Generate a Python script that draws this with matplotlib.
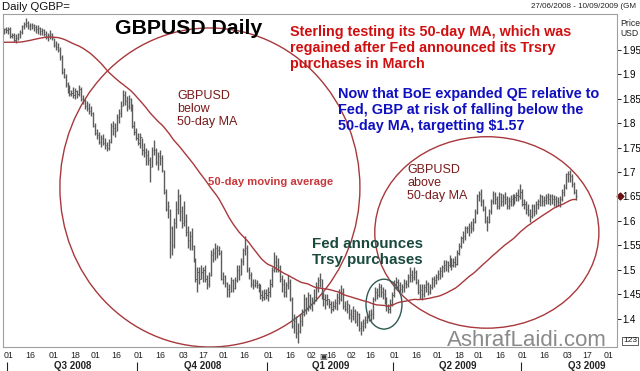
import numpy as np
import pandas as pd
import matplotlib
matplotlib.use("Agg")
import matplotlib.pyplot as plt
from matplotlib.patches import Ellipse
from matplotlib.ticker import FuncFormatter

plt.rcParams['font.family'] = ['Liberation Sans', 'DejaVu Sans']

# ---------------- data ----------------
start_date = '2008-06-27'
end_date = '2009-09-10'

# 49 closes before the first bar (feed the 50-day moving average)
pre_close = [1.99, 1.99, 1.98, 1.98, 1.97, 1.97, 1.98, 1.97, 1.98, 1.97,
             1.96, 1.96, 1.97, 1.95, 1.95, 1.95, 1.96, 1.95, 1.94, 1.95,
             1.95, 1.97, 1.97, 1.98, 1.97, 1.97, 1.97, 1.98, 1.96, 1.96,
             1.96, 1.97, 1.95, 1.96, 1.96, 1.95, 1.95, 1.95, 1.96, 1.96,
             1.97, 1.97, 1.97, 1.97, 1.98, 1.97, 1.96, 1.96, 1.97]

high = [
    1.995,
    # Jul 2008
    1.997, 1.997, 1.996, 1.985, 1.984, 1.982, 1.985, 1.990, 2.002, 2.008, 2.016, 2.010,
    2.005, 2.006, 2.004, 2.002, 2.000, 1.997, 1.995, 1.992, 1.988, 1.985, 1.990,
    # Aug 2008
    1.985, 1.975, 1.968, 1.965, 1.955, 1.940, 1.912, 1.900, 1.885, 1.878, 1.868,
    1.875, 1.872, 1.868, 1.878, 1.875, 1.858, 1.850, 1.845, 1.842, 1.835,
    # Sep 2008
    1.822, 1.800, 1.788, 1.782, 1.775, 1.778, 1.770, 1.762, 1.768, 1.800, 1.805,
    1.800, 1.818, 1.830, 1.845, 1.867, 1.866, 1.855, 1.858, 1.852, 1.840, 1.805,
    # Oct 2008
    1.790, 1.780, 1.780, 1.770, 1.760, 1.750, 1.745, 1.730, 1.752, 1.765, 1.750, 1.740,
    1.745, 1.735, 1.705, 1.665, 1.640, 1.625, 1.590, 1.605, 1.640, 1.666, 1.655,
    # Nov 2008
    1.630, 1.640, 1.615, 1.590, 1.580, 1.585, 1.550, 1.525, 1.505, 1.505,
    1.510, 1.505, 1.510, 1.490, 1.495, 1.540, 1.545, 1.555, 1.550, 1.548,
    # Dec 2008
    1.540, 1.495, 1.490, 1.475, 1.470, 1.485, 1.480, 1.485, 1.510, 1.510, 1.525, 1.545,
    1.570, 1.550, 1.505, 1.495, 1.480, 1.480, 1.478, 1.472, 1.470, 1.458, 1.460,
    # Jan 2009
    1.460, 1.465, 1.480, 1.505, 1.536, 1.530, 1.525, 1.510, 1.490, 1.480, 1.475,
    1.490, 1.480, 1.445, 1.410, 1.405, 1.390, 1.410, 1.420, 1.450, 1.445, 1.455,
    # Feb 2009
    1.450, 1.445, 1.460, 1.475, 1.485, 1.493, 1.482, 1.455, 1.450, 1.450,
    1.440, 1.435, 1.435, 1.440, 1.452, 1.460, 1.468, 1.462, 1.435, 1.438,
    # Mar 2009
    1.430, 1.420, 1.425, 1.420, 1.415, 1.412, 1.395, 1.400, 1.405, 1.412, 1.418,
    1.420, 1.445, 1.465, 1.462, 1.473, 1.470, 1.465, 1.460, 1.445, 1.430, 1.440,
    # Apr 2009
    1.455, 1.478, 1.485, 1.480, 1.475, 1.470, 1.480, 1.478, 1.492, 1.505, 1.500,
    1.505, 1.500, 1.480, 1.470, 1.470, 1.470, 1.478, 1.475, 1.470, 1.485, 1.488,
    # May 2009
    1.492, 1.500, 1.505, 1.510, 1.520, 1.520, 1.518, 1.530, 1.525, 1.525, 1.528,
    1.540, 1.555, 1.570, 1.580, 1.590, 1.590, 1.595, 1.600, 1.605, 1.625,
    # Jun 2009
    1.655, 1.662, 1.666, 1.645, 1.630, 1.610, 1.625, 1.645, 1.662, 1.660, 1.650,
    1.660, 1.658, 1.655, 1.660, 1.650, 1.648, 1.652, 1.655, 1.655, 1.660, 1.665,
    # Jul 2009
    1.676, 1.665, 1.645, 1.640, 1.635, 1.625, 1.635, 1.635, 1.640, 1.645, 1.655, 1.652,
    1.650, 1.655, 1.658, 1.655, 1.656, 1.652, 1.650, 1.648, 1.650, 1.665, 1.675,
    # Aug 2009
    1.698, 1.703, 1.704, 1.695, 1.680, 1.665,
]

low = [
    1.983,
    # Jul 2008
    1.985, 1.983, 1.975, 1.975, 1.966, 1.965, 1.970, 1.975, 1.983, 1.992, 1.996, 1.993,
    1.990, 1.992, 1.988, 1.985, 1.982, 1.980, 1.980, 1.978, 1.972, 1.968, 1.973,
    # Aug 2008
    1.970, 1.955, 1.950, 1.945, 1.930, 1.900, 1.892, 1.875, 1.862, 1.855, 1.855,
    1.852, 1.850, 1.852, 1.856, 1.845, 1.840, 1.830, 1.825, 1.818, 1.815,
    # Sep 2008
    1.792, 1.775, 1.768, 1.758, 1.752, 1.755, 1.748, 1.744, 1.745, 1.760, 1.775,
    1.772, 1.785, 1.800, 1.812, 1.835, 1.838, 1.825, 1.828, 1.825, 1.790, 1.775,
    # Oct 2008
    1.765, 1.755, 1.750, 1.735, 1.730, 1.715, 1.715, 1.680, 1.710, 1.735, 1.715, 1.705,
    1.715, 1.700, 1.655, 1.620, 1.605, 1.525, 1.530, 1.545, 1.585, 1.615, 1.600,
    # Nov 2008
    1.585, 1.590, 1.570, 1.545, 1.540, 1.540, 1.515, 1.475, 1.455, 1.470,
    1.480, 1.475, 1.475, 1.460, 1.465, 1.488, 1.515, 1.520, 1.525, 1.530,
    # Dec 2008
    1.478, 1.470, 1.465, 1.445, 1.445, 1.455, 1.455, 1.460, 1.475, 1.478, 1.490, 1.510,
    1.530, 1.495, 1.480, 1.465, 1.460, 1.465, 1.462, 1.455, 1.440, 1.435, 1.438,
    # Jan 2009
    1.440, 1.435, 1.445, 1.465, 1.495, 1.495, 1.495, 1.475, 1.455, 1.445, 1.444,
    1.460, 1.435, 1.380, 1.370, 1.360, 1.350, 1.370, 1.385, 1.405, 1.410, 1.415,
    # Feb 2009
    1.420, 1.415, 1.430, 1.435, 1.455, 1.465, 1.440, 1.425, 1.420, 1.428,
    1.422, 1.412, 1.415, 1.420, 1.418, 1.430, 1.435, 1.420, 1.415, 1.412,
    # Mar 2009
    1.400, 1.392, 1.398, 1.390, 1.385, 1.375, 1.366, 1.375, 1.380, 1.390, 1.395,
    1.395, 1.400, 1.435, 1.440, 1.445, 1.445, 1.440, 1.430, 1.415, 1.411, 1.412,
    # Apr 2009
    1.425, 1.445, 1.460, 1.460, 1.450, 1.452, 1.455, 1.462, 1.465, 1.475, 1.475,
    1.478, 1.470, 1.450, 1.440, 1.438, 1.445, 1.455, 1.448, 1.450, 1.460, 1.465,
    # May 2009
    1.470, 1.478, 1.480, 1.485, 1.495, 1.498, 1.495, 1.505, 1.500, 1.505, 1.505,
    1.510, 1.530, 1.545, 1.555, 1.560, 1.575, 1.570, 1.575, 1.580, 1.595,
    # Jun 2009
    1.615, 1.640, 1.630, 1.620, 1.595, 1.580, 1.595, 1.615, 1.635, 1.635, 1.625,
    1.625, 1.630, 1.630, 1.635, 1.625, 1.625, 1.630, 1.630, 1.635, 1.640, 1.640,
    # Jul 2009
    1.645, 1.630, 1.625, 1.615, 1.610, 1.597, 1.605, 1.610, 1.615, 1.625, 1.630, 1.630,
    1.630, 1.635, 1.635, 1.632, 1.635, 1.630, 1.628, 1.630, 1.628, 1.640, 1.650,
    # Aug 2009
    1.665, 1.680, 1.680, 1.670, 1.655, 1.642,
]

close = [
    1.992,
    # Jul 2008
    1.990, 1.993, 1.978, 1.980, 1.970, 1.975, 1.982, 1.986, 1.998, 2.004, 2.006, 1.998,
    2.002, 2.000, 1.996, 1.992, 1.995, 1.988, 1.990, 1.982, 1.976, 1.980, 1.982,
    # Aug 2008
    1.975, 1.960, 1.955, 1.950, 1.935, 1.905, 1.895, 1.880, 1.870, 1.860, 1.862,
    1.858, 1.865, 1.860, 1.870, 1.850, 1.845, 1.835, 1.832, 1.825, 1.820,
    # Sep 2008
    1.795, 1.780, 1.775, 1.762, 1.770, 1.760, 1.755, 1.750, 1.762, 1.795, 1.790,
    1.785, 1.812, 1.820, 1.835, 1.858, 1.845, 1.835, 1.850, 1.835, 1.795, 1.782,
    # Oct 2008
    1.770, 1.760, 1.772, 1.745, 1.740, 1.735, 1.725, 1.710, 1.745, 1.745, 1.720, 1.732,
    1.728, 1.705, 1.660, 1.625, 1.630, 1.585, 1.550, 1.595, 1.625, 1.650, 1.620,
    # Nov 2008
    1.595, 1.600, 1.578, 1.560, 1.570, 1.548, 1.520, 1.480, 1.495, 1.480,
    1.495, 1.500, 1.480, 1.470, 1.490, 1.530, 1.535, 1.545, 1.540, 1.535,
    # Dec 2008
    1.482, 1.488, 1.472, 1.460, 1.455, 1.478, 1.462, 1.478, 1.500, 1.490, 1.518, 1.540,
    1.545, 1.500, 1.490, 1.470, 1.468, 1.472, 1.468, 1.460, 1.448, 1.445, 1.452,
    # Jan 2009
    1.448, 1.455, 1.470, 1.500, 1.515, 1.510, 1.505, 1.480, 1.470, 1.455, 1.468,
    1.475, 1.440, 1.385, 1.395, 1.370, 1.375, 1.395, 1.410, 1.440, 1.420, 1.448,
    # Feb 2009
    1.430, 1.438, 1.445, 1.465, 1.478, 1.480, 1.445, 1.440, 1.438, 1.440,
    1.430, 1.420, 1.425, 1.432, 1.445, 1.440, 1.455, 1.425, 1.420, 1.430,
    # Mar 2009
    1.410, 1.405, 1.415, 1.395, 1.410, 1.380, 1.385, 1.390, 1.398, 1.405, 1.408,
    1.410, 1.440, 1.455, 1.448, 1.465, 1.455, 1.450, 1.440, 1.425, 1.420, 1.430,
    # Apr 2009
    1.448, 1.470, 1.475, 1.468, 1.460, 1.465, 1.472, 1.470, 1.485, 1.490, 1.485,
    1.495, 1.475, 1.455, 1.458, 1.450, 1.465, 1.470, 1.455, 1.465, 1.480, 1.478,
    # May 2009
    1.485, 1.492, 1.498, 1.505, 1.510, 1.515, 1.510, 1.525, 1.510, 1.515, 1.512,
    1.535, 1.548, 1.565, 1.570, 1.585, 1.585, 1.590, 1.585, 1.598, 1.618,
    # Jun 2009
    1.650, 1.655, 1.640, 1.625, 1.600, 1.598, 1.620, 1.640, 1.655, 1.645, 1.630,
    1.655, 1.640, 1.648, 1.645, 1.630, 1.640, 1.645, 1.640, 1.648, 1.652, 1.650,
    # Jul 2009
    1.660, 1.635, 1.635, 1.625, 1.615, 1.610, 1.630, 1.620, 1.635, 1.640, 1.650, 1.640,
    1.642, 1.648, 1.645, 1.650, 1.645, 1.645, 1.640, 1.638, 1.645, 1.660, 1.670,
    # Aug 2009
    1.695, 1.695, 1.692, 1.675, 1.660, 1.650,
]

tick_dates = ['2008-07-01', '2008-07-16', '2008-08-01', '2008-08-18', '2008-09-01',
              '2008-09-16', '2008-10-01', '2008-10-16', '2008-11-03', '2008-11-17',
              '2008-12-01', '2008-12-16', '2009-01-01', '2009-01-16', '2009-02-02',
              '2009-02-16', '2009-03-02', '2009-03-16', '2009-04-01', '2009-04-16',
              '2009-05-01', '2009-05-18', '2009-06-01', '2009-06-16', '2009-07-01',
              '2009-07-16', '2009-08-03', '2009-08-17', '2009-09-01']
quarter_starts = ['2008-07-01', '2008-10-01', '2009-01-01', '2009-04-01', '2009-07-01', '2009-10-01']
quarter_labels = ['Q3 2008', 'Q4 2008', 'Q1 2009', 'Q2 2009', 'Q3 2009']
y_ticks = [1.4, 1.45, 1.5, 1.55, 1.6, 1.65, 1.7, 1.75, 1.8, 1.85, 1.9, 1.95]

# ---------------- figure ----------------
W, H = 640, 371
fig = plt.figure(figsize=(W / 100, H / 100), dpi=100)
fig.patch.set_facecolor('white')
L, R, Tp, B = 3, 617, 14, 347
ax = fig.add_axes([L / W, 1 - B / H, (R - L) / W, (B - Tp) / H])

tick_days = pd.bdate_range(start_date, '2009-12-31')
def pos(d):
    return tick_days.get_loc(pd.Timestamp(d))

n = len(close)
x = np.arange(n)
hi = np.array(high); lo = np.array(low); cl = np.array(close)

bar_col = '#5c5c5c'
ax.vlines(x, lo, hi, color=bar_col, lw=1.0)
ax.hlines(cl, x, x + 0.6, color=bar_col, lw=0.6)

ma = pd.Series(pre_close + close).rolling(50).mean().to_numpy()[len(pre_close):]
red = '#a8383c'
ax.plot(x, ma, color=red, lw=1.0)

ax.set_xlim(-0.76, 311.06)
ax.set_ylim(1.3418, 2.0235)

# circles (axes fraction coordinates)
ax.add_patch(Ellipse((0.337, 0.479), 0.4886, 0.958, transform=ax.transAxes,
                     fill=False, ec=red, lw=1.0))
ax.add_patch(Ellipse((0.788, 0.344), 0.365, 0.575, transform=ax.transAxes,
                     fill=False, ec=red, lw=1.0))
ax.add_patch(Ellipse((0.6205, 0.1287), 0.0586, 0.1497, transform=ax.transAxes,
                     fill=False, ec='#2e5a55', lw=1.0))

for s in ax.spines.values():
    s.set_color('#a0a0a0')
    s.set_linewidth(0.8)

# right price axis
ax.yaxis.tick_right()
ax.set_yticks(y_ticks)
ax.yaxis.set_major_formatter(FuncFormatter(lambda v, p: f'{v:g}'))
ax.tick_params(axis='y', direction='out', length=3, width=0.6, pad=1,
               labelsize=7, colors='black')

# date axis
ax.set_xticks([pos(d) for d in tick_dates])
ax.set_xticklabels([d[-2:] for d in tick_dates])
ax.tick_params(axis='x', length=0, pad=3, labelsize=6.3, colors='#222222')

xt = ax.get_xaxis_transform()
qpos = [pos(d) for d in quarter_starts]
for i, lab in enumerate(quarter_labels):
    ax.vlines(qpos[i] - 0.5, -0.045, -0.08, transform=xt, color='#222222',
              lw=0.8, clip_on=False)
    ax.text((qpos[i] + qpos[i + 1] - 1) / 2, -0.058, lab, transform=xt,
            ha='center', va='center', fontsize=7, fontweight='bold',
            color='#222222', clip_on=False)

# last value marker on the price axis
ax.plot([1.005], [cl[-1]], transform=ax.get_yaxis_transform(), marker='D',
        ms=3.5, color='#6a1010', clip_on=False)

# ---------------- texts (pixel positions) ----------------
def T(px, py, s, **kw):
    fig.text(px / W, 1 - py / H, s, **kw)

T(2, 7, 'Daily QGBP=', fontsize=8.2, va='center', ha='left', color='#111111')
T(531, 7, '27/06/2008 - 10/09/2009 (GM', fontsize=5.8, va='center', ha='left',
  color='#222222')
T(620, 23, 'Price', fontsize=6.2, va='center', ha='left', color='#222222')
T(620, 34, 'USD', fontsize=6.2, va='center', ha='left', color='#222222')
T(623, 341, '123', fontsize=6, va='center', ha='left', color='#222222',
  bbox=dict(boxstyle='square,pad=0.1', fc='white', ec='#444444', lw=0.6))
T(323, 357, '\u25a3', fontsize=6, va='center', ha='center', color='#333333',
  family='DejaVu Sans')

T(189, 28, 'GBPUSD Daily', fontsize=15.3, fontweight='bold', ha='center',
  va='center', color='black')
T(290, 48, 'Sterling testing its 50-day MA, which was\nregained after Fed announced its Trsry\npurchases in March',
  fontsize=10.4, fontweight='bold', ha='left', va='center', color='#d01010',
  linespacing=1.22)
T(338, 110, 'Now that BoE expanded QE relative to\nFed, GBP at risk of falling below the\n50-day MA, targetting $1.57',
  fontsize=10.4, fontweight='bold', ha='left', va='center', color='#1010c0',
  linespacing=1.2)
T(177, 109, 'GBPUSD\nbelow\n50-day MA', fontsize=9, ha='left', va='center',
  color='#7a1a1a', linespacing=1.15)
T(208, 182, '50-day moving average', fontsize=8.1, fontweight='bold', ha='left',
  va='center', color='#c8383c')
T(407, 183, 'GBPUSD\nabove\n50-day MA', fontsize=9, ha='left', va='center',
  color='#7a1a1a', linespacing=1.15)
T(312, 252, 'Fed announces\nTrsy purchases', fontsize=10.9, fontweight='bold',
  ha='left', va='center', color='#1a4a3e', linespacing=1.1)
T(447, 341, 'AshrafLaidi.com', fontsize=16, ha='left', va='center',
  color='#8a8a8a')

fig.savefig('out.png', dpi=100)
